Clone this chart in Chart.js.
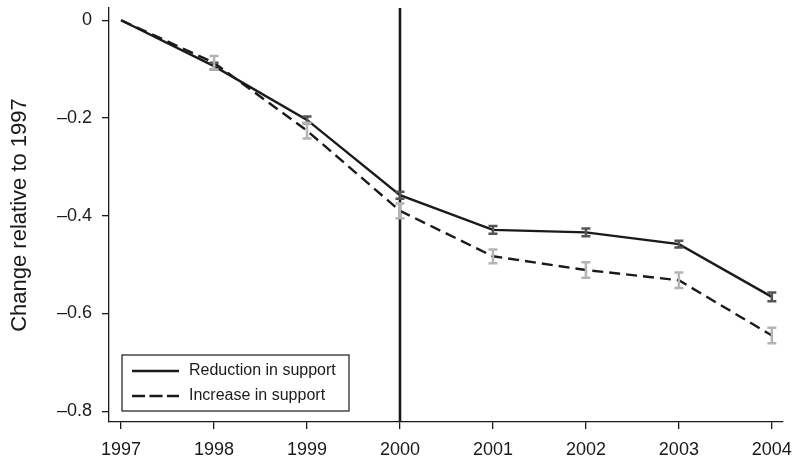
<!DOCTYPE html>
<html>
<head>
<meta charset="utf-8">
<script src="https://cdn.jsdelivr.net/npm/chart.js@4.4.0/dist/chart.umd.min.js"></script>
<style>
  html, body { margin: 0; padding: 0; background: #fff; }
</style>
</head>
<body>
<canvas id="chart" width="793" height="460"></canvas>
<script>
// values
const years = [1997, 1998, 1999, 2000, 2001, 2002, 2003, 2004];
const reduction = [0, -0.094, -0.204, -0.358, -0.429, -0.434, -0.458, -0.566];
const reductionErr = [0, 0.007, 0.007, 0.007, 0.008, 0.008, 0.007, 0.009];
const increase = [0, -0.087, -0.226, -0.390, -0.483, -0.511, -0.532, -0.645];
const increaseErr = [0, 0.014, 0.016, 0.015, 0.014, 0.016, 0.016, 0.016];
const yTicks = [-0.8, -0.6, -0.4, -0.2, 0];
const yTickLabels = ['\u20130.8', '\u20130.6', '\u20130.4', '\u20130.2', '0'];
const xTicks = years;
const policyYear = 2000;

const ink = '#1a1a1a';
const font = 'Liberation Sans, Arial, Helvetica, sans-serif';

function points(vals) {
  return years.map((yr, i) => ({ x: yr, y: vals[i] }));
}

// vertical line at the policy year
const policyLine = {
  id: 'policyLine',
  beforeDatasetsDraw(chart) {
    const { ctx, chartArea, scales } = chart;
    const px = scales.x.getPixelForValue(policyYear);
    ctx.save();
    ctx.strokeStyle = ink;
    ctx.lineWidth = 2.6;
    ctx.beginPath();
    ctx.moveTo(px, chartArea.top);
    ctx.lineTo(px, chartArea.bottom);
    ctx.stroke();
    ctx.restore();
  }
};

// capped error bars
const errorBars = {
  id: 'errorBars',
  afterDatasetsDraw(chart) {
    const { ctx, scales } = chart;
    chart.data.datasets.forEach(ds => {
      if (!ds.errors) return;
      ctx.save();
      ctx.strokeStyle = ds.errColor;
      ctx.lineWidth = 2.5;
      ds.data.forEach((p, i) => {
        const e = ds.errors[i];
        if (!e) return;
        const px = scales.x.getPixelForValue(p.x);
        const top = scales.y.getPixelForValue(p.y + e);
        const bot = scales.y.getPixelForValue(p.y - e);
        ctx.beginPath();
        ctx.moveTo(px, top); ctx.lineTo(px, bot);
        ctx.moveTo(px - 4.5, top); ctx.lineTo(px + 4.5, top);
        ctx.moveTo(px - 4.5, bot); ctx.lineTo(px + 4.5, bot);
        ctx.stroke();
      });
      ctx.restore();
    });
  }
};

// boxed legend in the lower-left corner
const boxLegend = {
  id: 'boxLegend',
  afterDraw(chart) {
    const { ctx } = chart;
    const left = 122, top = 355, w = 227, h = 56;
    ctx.save();
    ctx.strokeStyle = ink;
    ctx.lineWidth = 1.2;
    ctx.strokeRect(left, top, w, h);
    ctx.font = '16px ' + font;
    ctx.textBaseline = 'middle';
    chart.data.datasets.forEach((ds, i) => {
      const yy = top + 16 + i * 25;
      ctx.strokeStyle = ink;
      ctx.lineWidth = 2.6;
      ctx.setLineDash(ds.borderDash ? [13, 4.5] : []);
      ctx.beginPath();
      ctx.moveTo(left + 10, yy);
      ctx.lineTo(left + 57, yy);
      ctx.stroke();
      ctx.setLineDash([]);
      ctx.fillStyle = ink;
      ctx.fillText(ds.label, left + 67, yy);
    });
    ctx.restore();
  }
};

const chart = new Chart(document.getElementById('chart'), {
  type: 'line',
  data: {
    datasets: [
      {
        label: 'Reduction in support',
        data: points(reduction),
        errors: reductionErr,
        errColor: '#555555',
        borderColor: ink,
        borderWidth: 2.4,
        pointRadius: 0,
        tension: 0
      },
      {
        label: 'Increase in support',
        data: points(increase),
        errors: increaseErr,
        errColor: '#b4b4b4',
        borderColor: ink,
        borderWidth: 2.4,
        borderDash: [11, 6],
        pointRadius: 0,
        tension: 0
      }
    ]
  },
  options: {
    responsive: false,
    animation: false,
    layout: { padding: { top: 8, right: 10, left: 0, bottom: 0 } },
    plugins: {
      legend: { display: false },
      tooltip: { enabled: false }
    },
    scales: {
      x: {
        type: 'linear',
        min: 1996.87,
        max: 2004.12,
        afterBuildTicks: s => { s.ticks = xTicks.map(v => ({ value: v })); },
        afterFit: s => { s.height = 38; s.paddingLeft = 0; s.paddingRight = 0; },
        ticks: {
          callback: v => String(v),
          color: ink,
          font: { family: font, size: 18 },
          padding: 10,
          maxRotation: 0,
          autoSkip: false
        },
        grid: { drawOnChartArea: false, drawTicks: true, tickLength: 7, color: ink, lineWidth: 1.3 },
        border: { color: ink, width: 1.3 }
      },
      y: {
        min: -0.822,
        max: 0.025,
        afterBuildTicks: s => { s.ticks = yTicks.map(v => ({ value: v })); },
        afterFit: s => { s.width = 109; s.paddingTop = 0; s.paddingBottom = 0; },
        ticks: {
          callback: (v, i) => yTickLabels[i],
          color: ink,
          font: { family: font, size: 18 },
          padding: 10
        },
        grid: { drawOnChartArea: false, drawTicks: true, tickLength: 7, color: ink, lineWidth: 1.3 },
        border: { color: ink, width: 1.3 },
        title: {
          display: true,
          text: 'Change relative to 1997',
          color: ink,
          font: { family: font, size: 22 },
          padding: { top: 7, bottom: 0 }
        }
      }
    }
  },
  plugins: [policyLine, errorBars, boxLegend]
});
</script>
</body>
</html>
